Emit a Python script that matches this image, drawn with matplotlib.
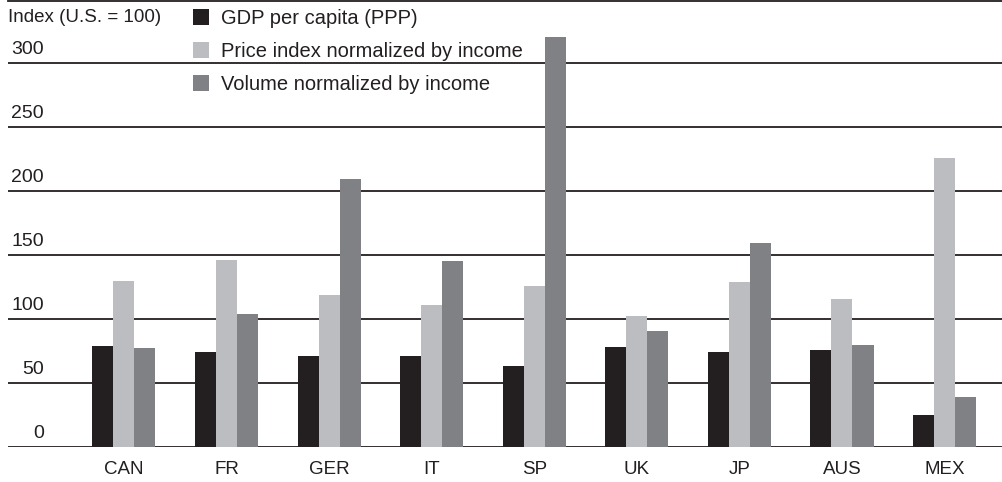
import matplotlib
matplotlib.use("Agg")
import matplotlib.pyplot as plt
from matplotlib.patches import Patch
import numpy as np

countries = ["CAN", "FR", "GER", "IT", "SP", "UK", "JP", "AUS", "MEX"]
gdp_per_capita = [79, 74, 71, 71, 63, 78, 74, 76, 25]
price_index = [130, 146, 119, 111, 126, 102, 129, 116, 226]
volume = [77, 104, 209, 145, 320, 91, 159, 80, 39]
series_labels = ["GDP per capita (PPP)", "Price index normalized by income",
                 "Volume normalized by income"]
yticks = [0, 50, 100, 150, 200, 250, 300]
y_title = "Index (U.S. = 100)"

colors = ["#231f20", "#bcbdc0", "#808184"]

plt.rcParams['font.family'] = ['Liberation Sans', 'DejaVu Sans']
FS = 13.5

W, H = 1002, 482
fig = plt.figure(figsize=(W / 100, H / 100), dpi=100)
ax = fig.add_axes([8 / W, 35 / H, 994 / W, 446 / H])

x = np.arange(len(countries))
bw = 0.205
for i, (vals, c, lab) in enumerate(zip([gdp_per_capita, price_index, volume], colors, series_labels)):
    ax.bar(x + (i - 1) * bw, vals, width=bw, color=c, label=lab, zorder=3, linewidth=0)

ax.set_ylim(0, 446 / 1.28)
ax.set_xlim(-1.13, 8.56)

for t in yticks:
    ax.axhline(t, color="#231f20", lw=1.3, zorder=2)
    ax.annotate(str(t), xy=(36 / 994, t), xycoords=("axes fraction", "data"),
                xytext=(0, 9.5), textcoords="offset points",
                ha="right", va="center", fontsize=14, color="#231f20")

for s in ["left", "right", "bottom"]:
    ax.spines[s].set_visible(False)
ax.spines["top"].set_color("#231f20")
ax.spines["top"].set_linewidth(1.3)

ax.set_yticks([])
ax.set_xticks(x)
ax.set_xticklabels(countries, fontsize=FS, color="#231f20")
ax.tick_params(axis="x", length=0, pad=10)

fig.text(8 / W, 1 - 18 / H, y_title, ha="left", va="center", fontsize=FS, color="#231f20")

handles = [Patch(facecolor=c, edgecolor="none") for c in colors]
fig.legend(handles, series_labels, loc="upper left", bbox_to_anchor=(193 / W, 1 - 9 / H),
           frameon=False, handlelength=0.8, handleheight=0.8, handletextpad=0.6,
           labelspacing=0.7, fontsize=14.5, borderpad=0, borderaxespad=0, labelcolor="#231f20")

fig.savefig("out.png", dpi=100)
